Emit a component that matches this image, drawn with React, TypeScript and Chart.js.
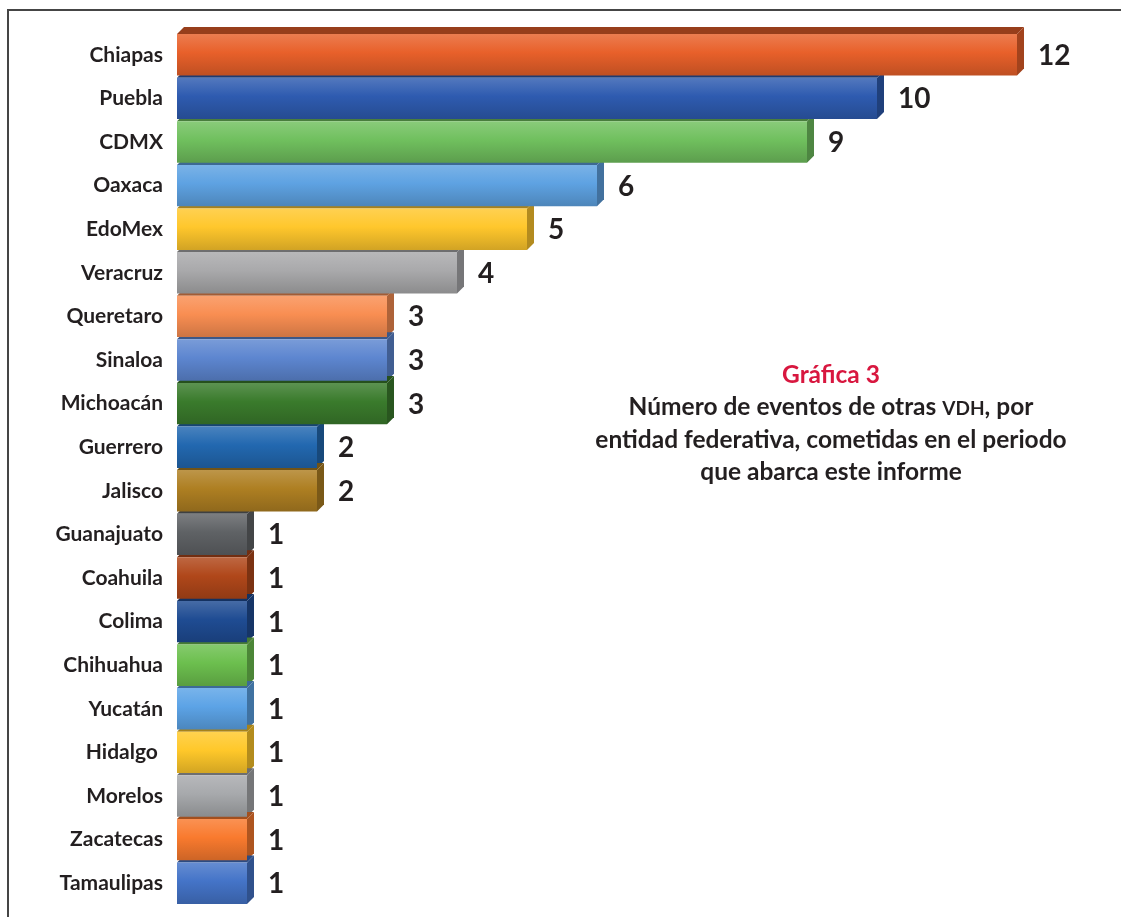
import React, { useEffect, useRef } from "react";
import { Chart, registerables } from "chart.js";

Chart.register(...registerables);

const categories = [
  "Chiapas", "Puebla", "CDMX", "Oaxaca", "EdoMex", "Veracruz", "Queretaro", "Sinaloa",
  "Michoacán", "Guerrero", "Jalisco", "Guanajuato", "Coahuila", "Colima", "Chihuahua",
  "Yucatán", "Hidalgo ", "Morelos", "Zacatecas", "Tamaulipas",
];
const values = [12, 10, 9, 6, 5, 4, 3, 3, 3, 2, 2, 1, 1, 1, 1, 1, 1, 1, 1, 1];
const barColors = [
  "#E8602A", "#2E5BB0", "#70C05E", "#5EA2E2", "#FFC72C", "#A9A9AB", "#F98E52", "#5D86D0",
  "#3A7B2C", "#2268B0", "#AE7F22", "#5F6265", "#B0471A", "#1F4C93", "#6CBF4E", "#5CA3E6",
  "#FFC82A", "#A7A9AC", "#F97A2E", "#4474C8",
];
const captionTitle = "Gráfica 3";
const captionLines = [
  ["Número de eventos de otras ", "VDH", ", por"],
  ["entidad federativa, cometidas en el periodo"],
  ["que abarca este informe"],
];

function shade(hex: string, amt: number): string {
  const n = parseInt(hex.slice(1), 16);
  let r = (n >> 16) & 255, g = (n >> 8) & 255, b = n & 255;
  const t = amt < 0 ? 0 : 255;
  const p = Math.abs(amt);
  r = Math.round(r + (t - r) * p);
  g = Math.round(g + (t - g) * p);
  b = Math.round(b + (t - b) * p);
  return `rgb(${r},${g},${b})`;
}

const DEPTH = 7;

const facesPlugin = {
  id: "faces3d",
  beforeDatasetsDraw(chart: any) {
    const meta = chart.getDatasetMeta(0);
    const c = chart.ctx;
    c.save();
    meta.data.forEach((bar: any, i: number) => {
      const { x, y, base, height } = bar.getProps(["x", "y", "base", "height"], true);
      const top = y - height / 2;
      const bottom = y + height / 2;
      const d = DEPTH;
      c.fillStyle = shade(barColors[i], -0.35);
      c.beginPath();
      c.moveTo(base, top);
      c.lineTo(base + d, top - d);
      c.lineTo(x + d, top - d);
      c.lineTo(x, top);
      c.closePath();
      c.fill();
      c.fillStyle = shade(barColors[i], -0.3);
      c.beginPath();
      c.moveTo(x, top);
      c.lineTo(x + d, top - d);
      c.lineTo(x + d, bottom - d);
      c.lineTo(x, bottom);
      c.closePath();
      c.fill();
    });
    c.restore();
  },
  afterDatasetsDraw(chart: any) {
    const meta = chart.getDatasetMeta(0);
    const c = chart.ctx;
    c.save();
    c.font = "bold 28px Lato";
    c.fillStyle = "#231f20";
    c.textAlign = "left";
    c.textBaseline = "middle";
    meta.data.forEach((bar: any, i: number) => {
      const { x, y } = bar.getProps(["x", "y"], true);
      c.fillText(String(values[i]), x + DEPTH + 14, y + 1);
    });
    c.restore();
  },
};

export default function App() {
  const ref = useRef<HTMLCanvasElement>(null);
  useEffect(() => {
    if (!ref.current) return;
    Chart.defaults.font.family = "Lato";
    const chart = new Chart(ref.current, {
      type: "bar",
      data: {
        labels: categories,
        datasets: [
          {
            data: values,
            backgroundColor: (ctx: any) => {
              const i = ctx.dataIndex;
              if (i == null) return barColors[0];
              const chart = ctx.chart;
              if (!chart.chartArea || !chart.scales.y) return barColors[i];
              const yc = chart.scales.y.getPixelForValue(i);
              const h = 21;
              const g = chart.ctx.createLinearGradient(0, yc - h, 0, yc + h);
              g.addColorStop(0, shade(barColors[i], 0.18));
              g.addColorStop(0.45, barColors[i]);
              g.addColorStop(1, shade(barColors[i], -0.18));
              return g;
            },
            borderWidth: 0,
            barPercentage: 0.95,
            categoryPercentage: 1,
          },
        ],
      },
      options: {
        indexAxis: "y",
        responsive: false,
        animation: false,
        layout: { padding: { top: 33, bottom: 12, right: 104, left: 0 } },
        plugins: { legend: { display: false }, tooltip: { enabled: false }, title: { display: false } },
        scales: {
          x: { display: false, min: 0, max: 12 },
          y: {
            grid: { display: false },
            border: { display: false },
            ticks: {
              color: "#231f20",
              font: { family: "Lato", weight: "bold", size: 21 },
              padding: 6,
              autoSkip: false,
            },
            afterFit: (scale: any) => {
              scale.width = 177;
              scale.paddingTop = 0;
              scale.paddingBottom = 0;
            },
          },
        },
      },
      plugins: [facesPlugin],
    } as any);
    return () => chart.destroy();
  }, []);

  return (
    <div style={{ position: "absolute", left: 0, top: 0, width: 1121, height: 917, background: "#fff" }}>
      <canvas ref={ref} width={1121} height={917} style={{ position: "absolute", left: 0, top: 0, width: 1121, height: 917 }} />
      <div
        style={{
          position: "absolute",
          left: 7,
          top: 9,
          width: 1114,
          height: 908,
          borderTop: "2px solid #454545",
          borderLeft: "2px solid #454545",
          boxSizing: "border-box",
          pointerEvents: "none",
        }}
      />
      <div
        style={{
          position: "absolute",
          left: 561,
          top: 358,
          width: 540,
          textAlign: "center",
          fontFamily: "Lato",
          fontWeight: 700,
          fontSize: 24.5,
          lineHeight: "31.5px",
          color: "#231f20",
        }}
      >
        <div style={{ color: "#D8173F" }}>{captionTitle}</div>
        {captionLines.map((parts, li) => (
          <div key={li}>
            {parts.map((p, pi) =>
              p === "VDH" ? (
                <span key={pi} style={{ fontSize: 19 }}>{p}</span>
              ) : (
                <span key={pi}>{p}</span>
              )
            )}
          </div>
        ))}
      </div>
    </div>
  );
}
